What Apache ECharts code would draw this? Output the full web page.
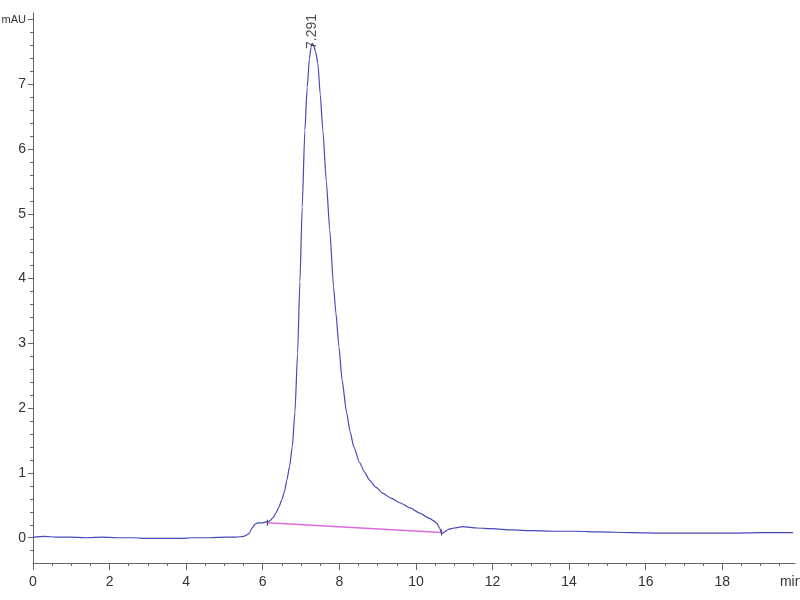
<!DOCTYPE html>
<html>
<head>
<meta charset="utf-8">
<script src="https://cdn.jsdelivr.net/npm/echarts@6/dist/echarts.min.js"></script>
<style>html,body{margin:0;padding:0;background:#fff;}#c{width:800px;height:600px;}</style>
</head>
<body>
<div id="c"></div>
<script>
// ---- data ----
var time = [0, 0.3, 0.6, 1.0, 1.4, 1.8, 2.2, 2.6, 3.0, 3.4, 3.8, 4.2, 4.6, 5.0, 5.3, 5.5, 5.58, 5.65, 5.72, 5.8, 5.87, 6.0, 6.14, 6.2, 6.27, 6.34, 6.42, 6.5, 6.57, 6.63, 6.7, 6.77, 6.84, 6.91, 6.97, 7.03, 7.10, 7.16, 7.22, 7.26, 7.291, 7.33, 7.38, 7.44, 7.50, 7.57, 7.66, 7.75, 7.85, 7.91, 7.99, 8.07, 8.19, 8.28, 8.38, 8.53, 8.65, 8.79, 8.95, 9.13, 9.35, 9.58, 9.85, 10.10, 10.35, 10.54, 10.62, 10.67, 10.72, 10.85, 11.0, 11.22, 11.6, 12.0, 12.5, 13.05, 13.6, 14.2, 14.8, 15.66, 16.5, 17.3, 18.2, 19.0, 19.85];
var signal = [0.01, 0.02, 0.01, 0.01, 0.0, 0.01, 0.0, 0.0, -0.01, -0.01, -0.01, 0.0, 0.0, 0.01, 0.01, 0.02, 0.04, 0.07, 0.15, 0.21, 0.23, 0.23, 0.25, 0.27, 0.31, 0.38, 0.47, 0.59, 0.72, 0.89, 1.10, 1.40, 1.93, 2.85, 3.95, 5.10, 6.29, 6.95, 7.40, 7.57, 7.63, 7.60, 7.50, 7.32, 6.85, 6.29, 5.50, 4.75, 3.87, 3.47, 2.95, 2.44, 1.93, 1.64, 1.40, 1.16, 1.02, 0.89, 0.78, 0.69, 0.61, 0.54, 0.46, 0.38, 0.30, 0.23, 0.15, 0.06, 0.08, 0.13, 0.15, 0.17, 0.15, 0.14, 0.12, 0.11, 0.10, 0.10, 0.09, 0.08, 0.07, 0.07, 0.07, 0.08, 0.08];
var baselineTime = [6.12, 10.67];
var baselineValue = [0.23, 0.08];
var peakTime = 7.291, peakValue = 7.63, peakLabel = '7.291';
var xMajorTicks = [0, 2, 4, 6, 8, 10, 12, 14, 16, 18];
var yMajorTicks = [0, 1, 2, 3, 4, 5, 6, 7, 8];
var xUnitLabel = 'min', yUnitLabel = 'mAU';

// ---- build ----
var xMinor = []; for (var i = 0; i <= 39; i++) xMinor.push(i * 0.5);
var yMinor = []; for (var j = -1; j <= 40; j++) yMinor.push(Math.round(j * 0.2 * 10) / 10);
var xLabelVals = xMajorTicks.concat([19.8]);
var font = 'Liberation Sans, Arial, sans-serif';
var axColor = '#666';

var chart = echarts.init(document.getElementById('c'));
var common = {min: 0, max: 19.9, type: 'value', splitLine: {show: false}};
chart.setOption({
  animation: false,
  backgroundColor: '#fff',
  grid: {left: 33, right: 5, top: 13, bottom: 37, containLabel: false, outerBoundsMode: 'none'},
  xAxis: [
    Object.assign({}, common, {
      axisLine: {show: true, onZero: false, lineStyle: {color: axColor, width: 1}},
      axisTick: {show: true, length: 7, customValues: xMajorTicks, lineStyle: {color: axColor}},
      axisLabel: {customValues: xLabelVals, margin: 12, color: '#333', fontSize: 14, fontFamily: font,
        formatter: function (v) { return v > 19 ? xUnitLabel : String(v); }}
    }),
    Object.assign({}, common, {
      position: 'bottom',
      axisLine: {show: false, onZero: false},
      axisTick: {show: true, length: 3, customValues: xMinor, lineStyle: {color: axColor}},
      axisLabel: {show: false}
    })
  ],
  yAxis: [
    {type: 'value', min: -0.39, max: 8.1, splitLine: {show: false},
      axisLine: {show: true, onZero: false, lineStyle: {color: axColor, width: 1}},
      axisTick: {show: true, length: 5, customValues: yMajorTicks, lineStyle: {color: axColor}},
      axisLabel: {customValues: yMajorTicks, margin: 7, color: '#333', fontSize: 14, fontFamily: font,
        rich: {u: {fontSize: 11, fontFamily: font, color: '#333'}},
        formatter: function (v) { return v === 8 ? '{u|' + yUnitLabel + '}' : String(v); }}
    },
    {type: 'value', min: -0.39, max: 8.1, position: 'left', offset: 0, splitLine: {show: false},
      axisLine: {show: false, onZero: false},
      axisTick: {show: true, length: 3, customValues: yMinor, lineStyle: {color: axColor}},
      axisLabel: {show: false}
    }
  ],
  series: [
    {type: 'line', data: time.map(function (t, k) { return [t, signal[k]]; }),
      showSymbol: false, symbol: 'none', smooth: 0.2, smoothMonotone: 'x',
      lineStyle: {color: '#4848b8', width: 1.2}, z: 3},
    {type: 'line', data: baselineTime.map(function (t, k) { return [t, baselineValue[k]]; }),
      symbol: 'rect', symbolSize: [1, 6], showSymbol: true,
      itemStyle: {color: '#444'},
      lineStyle: {color: '#e06ae0', width: 1.5}, z: 2},
    {type: 'scatter', data: [[peakTime, peakValue]], symbolSize: 0,
      label: {show: true, formatter: peakLabel, rotate: 90, position: [0, -12], align: 'center', verticalAlign: 'middle',
        color: '#222', fontSize: 14, fontFamily: 'Liberation Sans, Arial, sans-serif'}, z: 4}
  ]
});
</script>
</body>
</html>
